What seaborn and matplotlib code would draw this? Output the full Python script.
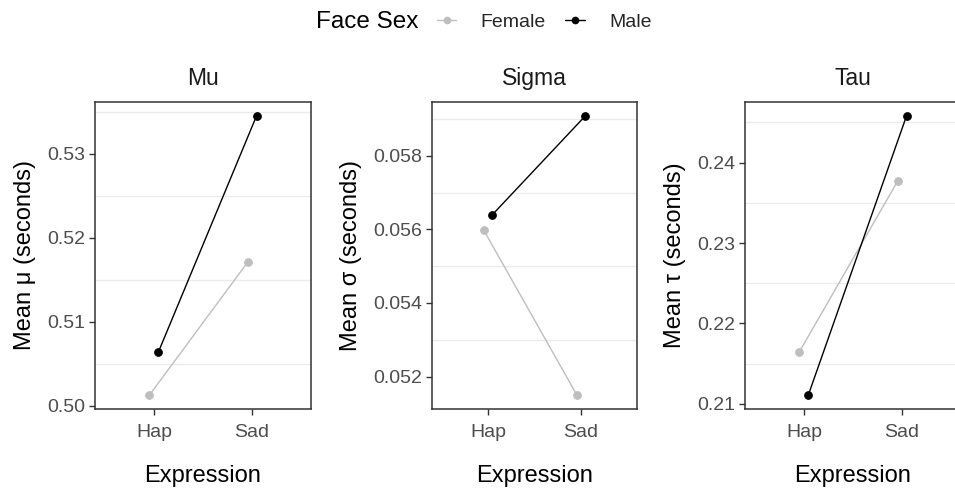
import matplotlib
matplotlib.use("Agg")
import matplotlib.pyplot as plt
from matplotlib.lines import Line2D
import seaborn as sns
import pandas as pd

# ---- data ----
expressions = ["Hap", "Sad"]
sexes = ["Female", "Male"]
mu_female = [0.5013, 0.5171]
mu_male = [0.5064, 0.5345]
sigma_female = [0.05598, 0.05150]
sigma_male = [0.05639, 0.05908]
tau_female = [0.2165, 0.2377]
tau_male = [0.2111, 0.2458]

panel_titles = ["Mu", "Sigma", "Tau"]
ylabels = ["Mean \u03bc (seconds)", "Mean \u03c3 (seconds)", "Mean \u03c4 (seconds)"]
yticks = [[0.50, 0.51, 0.52, 0.53],
          [0.052, 0.054, 0.056, 0.058],
          [0.21, 0.22, 0.23, 0.24]]
ytick_labels = [["0.50", "0.51", "0.52", "0.53"],
                ["0.052", "0.054", "0.056", "0.058"],
                ["0.21", "0.22", "0.23", "0.24"]]
yminor = [[0.505, 0.515, 0.525, 0.535],
          [0.053, 0.055, 0.057, 0.059],
          [0.215, 0.225, 0.235, 0.245]]

series = [(mu_female, mu_male), (sigma_female, sigma_male), (tau_female, tau_male)]

sns.set_theme(style="white")
plt.rcParams["font.family"] = ["Liberation Sans", "DejaVu Sans"]

palette = {"Female": "#BEBEBE", "Male": "#000000"}

W, H = 955, 488
fig = plt.figure(figsize=(W / 100, H / 100), dpi=100)

# panel boxes in pixels: left, right, top, bottom
boxes = [(95, 311, 102, 409), (432, 637, 102, 409), (745, 961, 102, 409)]

for i, (fem, mal) in enumerate(series):
    l, r, t, b = boxes[i]
    ax = fig.add_axes([l / W, (H - b) / H, (r - l) / W, (b - t) / H])
    df = pd.DataFrame({
        "Expression": expressions * 2,
        "Face Sex": ["Female"] * 2 + ["Male"] * 2,
        "value": list(fem) + list(mal),
    })
    sns.pointplot(data=df, x="Expression", y="value", hue="Face Sex",
                  hue_order=sexes, order=expressions, palette=palette,
                  dodge=0.09, errorbar=None, markers="o", markersize=5.5,
                  linewidth=1.0, ax=ax, legend=False)
    vals = list(fem) + list(mal)
    lo, hi = min(vals), max(vals)
    pad = (hi - lo) * 0.05
    ax.set_ylim(lo - pad, hi + pad)
    ax.set_xlim(-0.6, 1.6)
    ax.set_yticks(yticks[i])
    ax.set_yticklabels(ytick_labels[i])
    ax.set_yticks(yminor[i], minor=True)
    ax.grid(False)
    ax.grid(True, which="minor", axis="y", color="#EBEBEB", linewidth=1.0)
    ax.set_axisbelow(True)
    for s in ax.spines.values():
        s.set_color("#333333")
        s.set_linewidth(1.1)
    if i == 2:
        ax.spines["right"].set_visible(False)
    ax.tick_params(axis="both", which="major", length=4, width=1.0,
                   color="#333333", labelcolor="#4D4D4D", labelsize=14,
                   left=True, bottom=True, pad=3)
    ax.tick_params(axis="x", which="major", pad=7)
    ax.tick_params(axis="y", which="minor", length=0)
    ax.set_title(panel_titles[i], fontsize=16.5, color="#1A1A1A", pad=12)
    ax.set_xlabel("Expression", fontsize=17, color="black", labelpad=17)
    ax.set_ylabel(ylabels[i], fontsize=17, color="black", labelpad=8)

# legend
fig.text(367 / W, 1 - 22 / H, "Face Sex", ha="center", va="center",
         fontsize=17.5, color="black")
handles = [Line2D([0], [0], color=palette[s], marker="o", markersize=4.5,
                  linewidth=1.0) for s in sexes]
fig.legend(handles, sexes, loc="center left", bbox_to_anchor=(437 / W, 1 - 22 / H),
           ncol=2, frameon=False, fontsize=14, handlelength=1.0,
           handletextpad=1.25, columnspacing=1.0, borderpad=0, borderaxespad=0)

fig.savefig("out.png", dpi=100)
